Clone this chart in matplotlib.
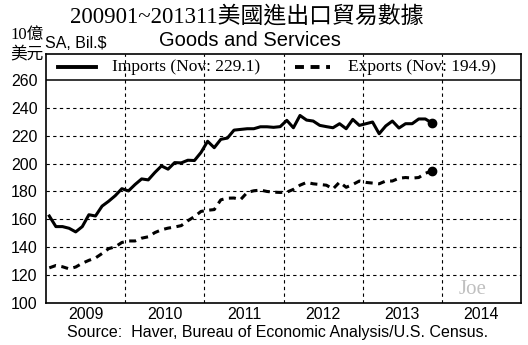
import numpy as np
import matplotlib
matplotlib.use("Agg")
import matplotlib.pyplot as plt

# monthly data, Jan 2009 .. Nov 2013 (SA, Bil.$)
start_year = 2009
imports = [162.4, 154.8, 154.8, 153.6, 151.0, 154.8, 163.3, 162.4, 169.5, 173.0,
           177.0, 182.0, 180.4, 185.0, 189.0, 188.3, 193.6, 198.3, 196.0, 200.7,
           200.5, 202.4, 202.2, 208.0, 216.0, 211.4, 217.4, 218.3, 224.0, 224.5,
           225.0, 225.0, 226.4, 226.4, 226.0, 226.5, 231.0, 225.7, 234.5, 231.2,
           230.5, 227.4, 226.5, 225.7, 228.6, 225.0, 231.7, 227.4, 228.6, 229.8,
           221.4, 227.0, 230.5, 225.5, 228.6, 228.6, 232.0, 232.0, 229.1]
exports = [125.2, 126.9, 126.0, 124.5, 125.8, 128.5, 130.6, 132.3, 135.5, 139.0,
           140.3, 143.4, 144.5, 144.5, 146.5, 147.5, 150.5, 152.5, 153.7, 154.5,
           155.5, 159.0, 162.0, 165.7, 166.5, 167.0, 174.0, 175.2, 175.3, 174.2,
           179.3, 180.5, 181.0, 180.0, 179.5, 179.3, 179.5, 181.5, 184.5, 186.5,
           185.5, 185.0, 184.5, 181.8, 186.7, 183.0, 185.0, 187.5, 186.5, 186.0,
           185.5, 187.5, 187.5, 189.5, 190.0, 189.6, 190.0, 193.0, 194.9]
years = [2009, 2010, 2011, 2012, 2013, 2014]
yticks = [100, 120, 140, 160, 180, 200, 220, 240, 260]

t = start_year + (np.arange(len(imports)) + 0.5) / 12

cjk = ['Liberation Serif', 'Noto Sans CJK TC']
sans = 'Liberation Sans'

fig = plt.figure(figsize=(5.28, 3.45), dpi=100)
ax = fig.add_axes([46/528, 1-303/345, 475/528, 249/345])

ax.plot(t, imports, color='black', lw=2.2, solid_joinstyle='round')
ax.plot(t, exports, color='black', lw=2.2, linestyle=(0, (2.3, 1.8)))
ax.plot(t[-1], imports[-1], 'o', color='black', ms=6)
ax.plot(t[-1], exports[-1], 'o', color='black', ms=6)

ax.set_xlim(2009, 2015)
ax.set_ylim(100, 278.6)
ax.set_yticks(yticks)
ax.set_xticks([y + 0.5 for y in years])
ax.set_xticklabels([str(y) for y in years])
ax.set_xticks(range(2010, 2015), minor=True)
ax.tick_params(axis='both', which='both', length=0, labelsize=11.5)
ax.tick_params(axis='x', pad=3)
ax.tick_params(axis='y', pad=6)
for lab in ax.get_xticklabels() + ax.get_yticklabels():
    lab.set_family(sans)

for y in yticks[1:-1]:
    ax.axhline(y, color='black', lw=0.8, linestyle=(0, (3, 3)))
for x in range(2010, 2015):
    ax.axvline(x, color='black', lw=0.8, linestyle=(0, (3, 3)))
ax.axhline(260, color='black', lw=1.1)
for s in ax.spines.values():
    s.set_linewidth(1.2)

# legend
ly = 0.948
ax.plot([0.025, 0.105], [ly, ly], transform=ax.transAxes, color='black', lw=2.8)
ax.text(0.138, ly, 'Imports (Nov: 229.1)', transform=ax.transAxes, va='center',
        family='Liberation Serif', fontsize=12.5)
ax.plot([0.524, 0.598], [ly, ly], transform=ax.transAxes, color='black', lw=2.8,
        linestyle=(0, (2.3, 1.7)))
ax.text(0.636, ly, 'Exports (Nov: 194.9)', transform=ax.transAxes, va='center',
        family='Liberation Serif', fontsize=12.5)

ax.text(0.928, 0.015, 'Joe', transform=ax.transAxes, ha='right', va='bottom',
        family='Liberation Serif', fontsize=15, color='#c0c0c0')

fig.text(247/528, 1-17/345, '200901~201311美國進出口貿易數據', ha='center', va='center',
         family=cjk, fontsize=16.5)
fig.text(250/528, 1-41/345, 'Goods and Services', ha='center', va='center',
         family=sans, fontsize=14.5)
fig.text(45/528, 1-43/345, 'SA, Bil.$', ha='left', va='center', family=sans, fontsize=11.5)
fig.text(10/528, 1-35/345, '10億', ha='left', va='center', family=cjk, fontsize=12)
fig.text(10/528, 1-55/345, '美元', ha='left', va='center', family=cjk, fontsize=12)
fig.text(278/528, 1-333/345, 'Source:  Haver, Bureau of Economic Analysis/U.S. Census.',
         ha='center', va='center', family=sans, fontsize=11.5)

fig.savefig('out.png', dpi=100)
